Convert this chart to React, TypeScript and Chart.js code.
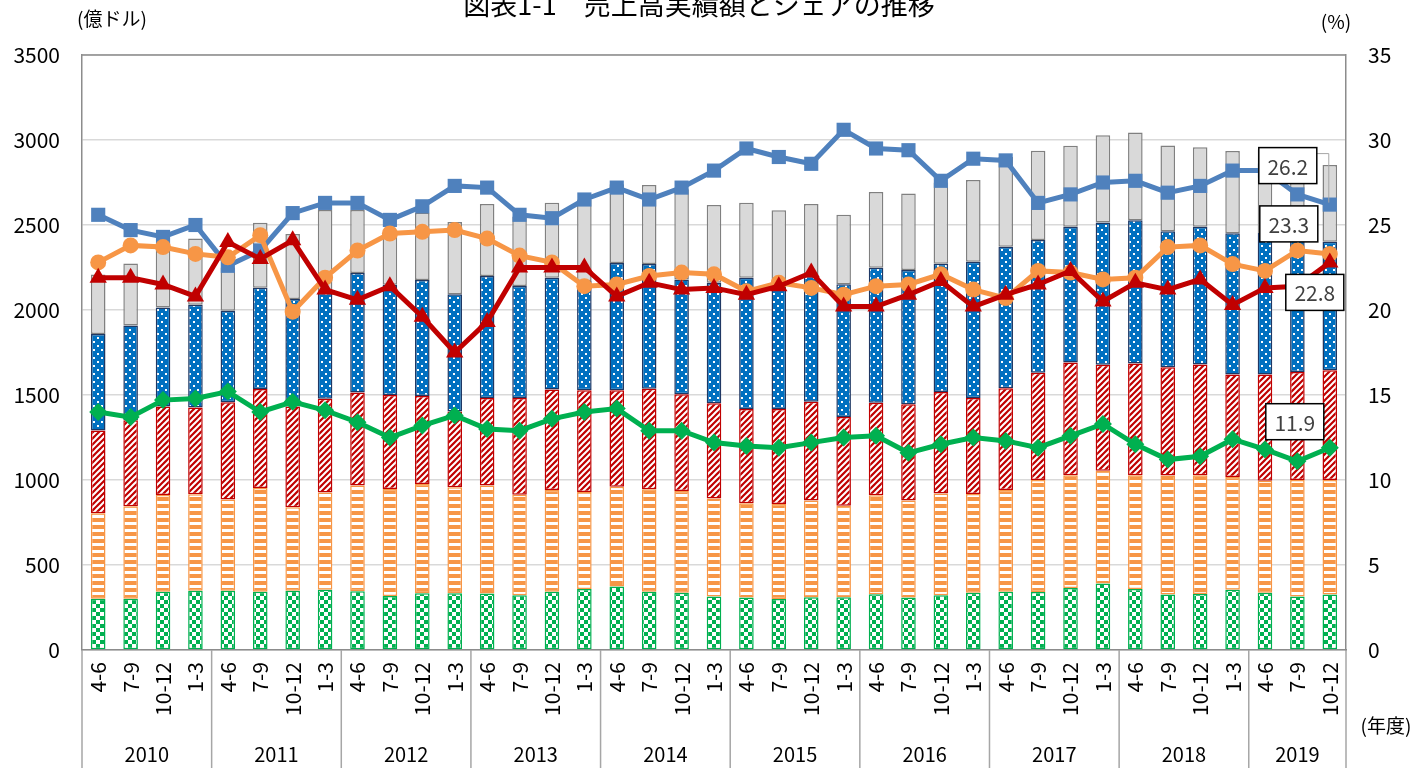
import React, { useEffect, useRef } from "react";
import Chart from "chart.js/auto";

const quarters = [
  "4-6","7-9","10-12","1-3","4-6","7-9","10-12","1-3","4-6","7-9","10-12","1-3",
  "4-6","7-9","10-12","1-3","4-6","7-9","10-12","1-3","4-6","7-9","10-12","1-3",
  "4-6","7-9","10-12","1-3","4-6","7-9","10-12","1-3","4-6","7-9","10-12","1-3",
  "4-6","7-9","10-12",
];
const years = ["2010","2011","2012","2013","2014","2015","2016","2017","2018","2019"];
const yearSpans = [4,4,4,4,4,4,4,4,4,3];

// stacked bar segments (億ドル)
const segGreen = [302,302,343,349,349,343,349,355,345,318,334,334,333,322,343,359,374,343,337,315,309,300,311,311,328,309,322,337,343,341,365,391,359,326,330,354,337,315,326];
const segOrange = [503,543,569,567,537,610,490,571,622,629,643,623,634,591,598,571,587,603,598,576,554,559,569,537,583,571,598,580,598,659,663,663,669,700,698,663,659,685,674];
const segRed = [486,507,521,511,571,582,594,552,547,553,517,446,516,570,592,598,567,591,569,561,554,558,581,522,544,566,597,566,598,631,663,624,657,637,652,603,624,635,645];
const segBlue = [568,557,582,604,539,596,632,622,703,649,683,689,717,658,657,642,748,733,676,708,772,743,739,782,793,789,755,801,833,781,799,837,843,800,809,832,833,785,757];
const segGray = [350,365,340,389,254,382,382,488,371,301,395,426,423,409,441,480,464,465,530,457,442,427,424,409,446,450,478,481,528,525,476,513,516,505,468,483,492,480,451];

// shares (%)
const shareBlue = [25.6,24.7,24.3,25.0,22.6,23.5,25.7,26.3,26.3,25.3,26.1,27.3,27.2,25.6,25.4,26.5,27.2,26.5,27.2,28.2,29.5,29.0,28.6,30.6,29.5,29.4,27.6,28.9,28.8,26.3,26.8,27.5,27.6,26.9,27.3,28.2,28.2,26.8,26.2];
const shareOrange = [22.8,23.8,23.7,23.3,23.1,24.4,19.9,21.9,23.5,24.5,24.6,24.7,24.2,23.2,22.8,21.4,21.5,22.0,22.2,22.1,21.1,21.6,21.3,20.9,21.4,21.5,22.1,21.2,20.7,22.3,22.2,21.8,21.9,23.7,23.8,22.7,22.3,23.5,23.3];
const shareRed = [21.9,21.9,21.5,20.8,24.0,23.0,24.1,21.2,20.6,21.4,19.6,17.5,19.3,22.5,22.5,22.5,20.8,21.6,21.2,21.3,20.9,21.4,22.2,20.2,20.2,20.9,21.7,20.2,20.9,21.5,22.3,20.5,21.6,21.2,21.8,20.3,21.3,21.4,22.8];
const shareGreen = [14.0,13.7,14.7,14.8,15.2,14.0,14.6,14.1,13.4,12.5,13.2,13.8,13.0,12.9,13.6,14.0,14.2,12.9,12.9,12.2,12.0,11.9,12.2,12.5,12.6,11.6,12.1,12.5,12.3,11.9,12.6,13.3,12.1,11.2,11.4,12.4,11.8,11.1,11.9];

const leftTicks = [0, 500, 1000, 1500, 2000, 2500, 3000, 3500];
const rightTicks = [0, 5, 10, 15, 20, 25, 30, 35];

const FONT = '"Noto Sans CJK JP", "Noto Sans", sans-serif';

function makeTile(w: number, h: number, draw: (c: CanvasRenderingContext2D) => void) {
  const cv = document.createElement("canvas");
  cv.width = w;
  cv.height = h;
  const c = cv.getContext("2d")!;
  draw(c);
  return c.createPattern(cv, "repeat")!;
}

export default function App() {
  const ref = useRef<HTMLCanvasElement | null>(null);

  useEffect(() => {
    const canvas = ref.current!;
    const pGreen = makeTile(8, 8, (c) => {
      c.fillStyle = "#00B050"; c.fillRect(0, 0, 8, 8);
      c.fillStyle = "#ffffff"; c.fillRect(0, 0, 4, 4); c.fillRect(4, 4, 4, 4);
    });
    const pOrange = makeTile(7, 7, (c) => {
      c.fillStyle = "#ffffff"; c.fillRect(0, 0, 7, 7);
      c.fillStyle = "#F79646"; c.fillRect(0, 0, 7, 4);
    });
    const pRed = makeTile(6, 6, (c) => {
      c.fillStyle = "#C00000"; c.fillRect(0, 0, 6, 6);
      c.strokeStyle = "#ffffff"; c.lineWidth = 2;
      c.beginPath();
      c.moveTo(-3, 3); c.lineTo(3, -3);
      c.moveTo(0, 6); c.lineTo(6, 0);
      c.moveTo(3, 9); c.lineTo(9, 3);
      c.stroke();
    });
    const pBlue = makeTile(8, 8, (c) => {
      c.fillStyle = "#0070C0"; c.fillRect(0, 0, 8, 8);
      c.fillStyle = "#ffffff"; c.fillRect(1, 1, 2, 2); c.fillRect(5, 5, 2, 2);
    });

    const barCommon = {
      type: "bar" as const,
      yAxisID: "y",
      stack: "s",
      order: 10,
      barPercentage: 0.45,
      categoryPercentage: 1,
      borderWidth: 1.5,
      borderSkipped: false,
    };

    const labelBoxes = [
      { ds: 4, text: "26.2", dx: -42, dy: -39 },
      { ds: 5, text: "23.3", dx: -41, dy: -30 },
      { ds: 6, text: "22.8", dx: -15, dy: 30 },
      { ds: 7, text: "11.9", dx: -35, dy: -26 },
    ];

    const deco = {
      id: "deco",
      afterDraw(chart: any) {
        const ctx = chart.ctx;
        const a = chart.chartArea;
        const xs = chart.scales.x;
        ctx.save();
        // top border
        ctx.strokeStyle = "#8C8C8C";
        ctx.lineWidth = 1.5;
        ctx.beginPath();
        ctx.moveTo(a.left, a.top); ctx.lineTo(a.right, a.top);
        ctx.stroke();
        // year separators and labels
        const step = xs.getPixelForValue(1) - xs.getPixelForValue(0);
        ctx.strokeStyle = "#A6A6A6";
        ctx.lineWidth = 1.5;
        let idx = 0;
        ctx.fillStyle = "#000";
        ctx.font = `20px ${FONT}`;
        ctx.textAlign = "center";
        ctx.textBaseline = "middle";
        const bounds: number[] = [];
        for (let k = 0; k < years.length; k++) {
          const x0 = xs.getPixelForValue(idx) - step / 2;
          const x1 = xs.getPixelForValue(idx + yearSpans[k] - 1) + step / 2;
          bounds.push(x0);
          if (k === years.length - 1) bounds.push(x1);
          ctx.fillText(years[k], (x0 + x1) / 2, 754);
          idx += yearSpans[k];
        }
        ctx.beginPath();
        for (const b of bounds) {
          ctx.moveTo(b, a.bottom); ctx.lineTo(b, 768);
        }
        ctx.stroke();
        // titles
        ctx.font = `27px ${FONT}`;
        ctx.fillText("図表1-1　売上高実績額とシェアの推移", 699, 5);
        ctx.font = `19px ${FONT}`;
        ctx.fillText("(億ドル)", 112, 19);
        ctx.fillText("(%)", 1336, 22);
        ctx.fillText("(年度)", 1386, 726);
        // leader line for first label
        const m4 = chart.getDatasetMeta(4).data[38];
        ctx.strokeStyle = "#A6A6A6";
        ctx.lineWidth = 1;
        ctx.beginPath();
        ctx.moveTo(m4.x - 42 + 29, m4.y - 39 - 12);
        ctx.lineTo(m4.x - 1, m4.y - 39 - 12);
        ctx.lineTo(m4.x - 1, m4.y - 2);
        ctx.stroke();
        // data label boxes
        ctx.font = `21px ${FONT}`;
        for (const lb of labelBoxes) {
          const p = chart.getDatasetMeta(lb.ds).data[38];
          const cx = p.x + lb.dx;
          const cy = p.y + lb.dy;
          const w = 58, h = 36;
          ctx.fillStyle = "#ffffff";
          ctx.fillRect(cx - w / 2, cy - h / 2, w, h);
          ctx.strokeStyle = "#000000";
          ctx.lineWidth = 1.5;
          ctx.strokeRect(cx - w / 2, cy - h / 2, w, h);
          ctx.fillStyle = "#404040";
          ctx.fillText(lb.text, cx, cy + 1);
        }
        ctx.restore();
      },
    };

    const chart = new Chart(canvas, {
      type: "bar",
      data: {
        labels: quarters,
        datasets: [
          { ...barCommon, label: "green", data: segGreen, backgroundColor: pGreen, borderColor: "#00B050" },
          { ...barCommon, label: "orange", data: segOrange, backgroundColor: pOrange, borderColor: "#F79646" },
          { ...barCommon, label: "red", data: segRed, backgroundColor: pRed, borderColor: "#C00000" },
          { ...barCommon, label: "blue", data: segBlue, backgroundColor: pBlue, borderColor: "#1F3864" },
          {
            type: "line", label: "share blue", data: shareBlue, yAxisID: "y1", order: 3,
            borderColor: "#4F81BD", backgroundColor: "#4F81BD", borderWidth: 5,
            pointStyle: "rect", pointRadius: 10, pointBorderWidth: 0, tension: 0,
          },
          {
            type: "line", label: "share orange", data: shareOrange, yAxisID: "y1", order: 2,
            borderColor: "#F79646", backgroundColor: "#F79646", borderWidth: 5,
            pointStyle: "circle", pointRadius: 8, pointBorderWidth: 0, tension: 0,
          },
          {
            type: "line", label: "share red", data: shareRed, yAxisID: "y1", order: 1,
            borderColor: "#C00000", backgroundColor: "#C00000", borderWidth: 5,
            pointStyle: "triangle", pointRadius: 10, pointBorderWidth: 0, tension: 0,
          },
          {
            type: "line", label: "share green", data: shareGreen, yAxisID: "y1", order: 0,
            borderColor: "#00B050", backgroundColor: "#00B050", borderWidth: 5,
            pointStyle: "rectRot", pointRadius: 9, pointBorderWidth: 0, tension: 0,
          },
          { ...barCommon, label: "gray", data: segGray, backgroundColor: "#D9D9D9", borderColor: "#808080" },
        ] as any,
      },
      options: {
        responsive: false,
        animation: false,
        devicePixelRatio: 1,
        layout: { padding: { top: 55, left: 0, right: 0, bottom: 0 } },
        plugins: { legend: { display: false }, tooltip: { enabled: false }, title: { display: false } },
        scales: {
          x: {
            stacked: true,
            grid: { display: false, drawTicks: false },
            border: { display: true, color: "#8C8C8C", width: 1.5 },
            ticks: {
              autoSkip: false, maxRotation: 90, minRotation: 90, padding: 12,
              color: "#000", font: { family: FONT, size: 21 },
            },
            afterFit: (s: any) => { s.height = 118; },
          },
          y: {
            stacked: true,
            position: "left",
            min: 0, max: 3500,
            afterBuildTicks: (s: any) => { s.ticks = leftTicks.map((v) => ({ value: v })); },
            grid: { color: "#D9D9D9", lineWidth: 1.5, drawTicks: false },
            border: { display: true, color: "#8C8C8C", width: 1.5 },
            ticks: {
              padding: 22, color: "#000", font: { family: FONT, size: 21 },
              callback: (v: any) => String(v),
            },
            afterFit: (s: any) => { s.width = 82; },
          },
          y1: {
            position: "right",
            min: 0, max: 35,
            afterBuildTicks: (s: any) => { s.ticks = rightTicks.map((v) => ({ value: v })); },
            grid: { display: false, drawTicks: false },
            border: { display: true, color: "#8C8C8C", width: 1.5 },
            ticks: {
              padding: 22, color: "#000", font: { family: FONT, size: 21 },
              callback: (v: any) => String(v),
            },
            afterFit: (s: any) => { s.width = 71; },
          },
        },
      } as any,
      plugins: [deco],
    });
    return () => chart.destroy();
  }, []);

  return (
    <div style={{ position: "fixed", left: 0, top: 0, width: 1417, height: 768, background: "#fff" }}>
      <canvas ref={ref} width={1417} height={768} style={{ width: 1417, height: 768, display: "block" }} />
    </div>
  );
}
